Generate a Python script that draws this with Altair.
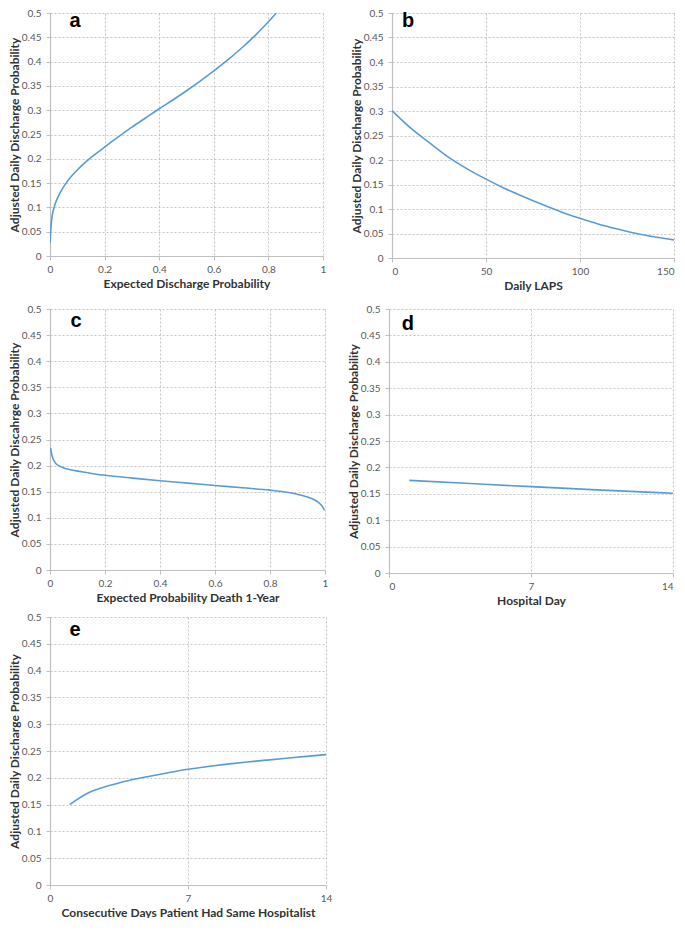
import altair as alt
import pandas as pd

# ---------------- data ----------------
a_x = [0.0005, 0.002, 0.003, 0.006, 0.01, 0.015, 0.02, 0.03, 0.045, 0.06, 0.08, 0.1, 0.12, 0.142, 0.17,
       0.2, 0.25, 0.3, 0.35, 0.4, 0.45, 0.5, 0.55, 0.6, 0.65, 0.7, 0.75, 0.8, 0.829]
a_y = [0.027, 0.045, 0.055, 0.074, 0.089, 0.1, 0.109, 0.122, 0.138, 0.151, 0.165, 0.177, 0.188, 0.199, 0.211,
       0.224, 0.245, 0.265, 0.284, 0.303, 0.321, 0.340, 0.360, 0.381, 0.403, 0.427, 0.453, 0.482, 0.5]

b_x = [0, 10, 20, 30, 40, 50, 60, 70, 80, 90, 100, 110, 120, 130, 140, 150]
b_y = [0.301, 0.265, 0.235, 0.206, 0.182, 0.161, 0.142, 0.125, 0.109, 0.094, 0.081, 0.069, 0.059, 0.050, 0.043, 0.037]

c_x = [0.002, 0.006, 0.01, 0.016, 0.022, 0.035, 0.05, 0.075, 0.107, 0.15, 0.2, 0.3, 0.4, 0.5, 0.6, 0.7, 0.8,
       0.85, 0.896, 0.93, 0.956, 0.975, 0.99, 0.998]
c_y = [0.2335, 0.222, 0.2146, 0.208, 0.2035, 0.199, 0.1955, 0.192, 0.189, 0.185, 0.1815, 0.176, 0.171, 0.1665,
       0.162, 0.1575, 0.153, 0.150, 0.1455, 0.141, 0.136, 0.130, 0.122, 0.1146]

d_x = [1, 4, 7, 10.5, 14]
d_y = [0.1755, 0.1695, 0.1635, 0.157, 0.151]

e_x = [1, 2, 3, 4, 5, 6, 7, 8, 9, 10, 11, 12, 13, 14]
e_y = [0.150, 0.173, 0.1855, 0.195, 0.2025, 0.2095, 0.2159, 0.221, 0.2255, 0.2295, 0.233, 0.2365, 0.240, 0.2433]

y_ticks = [0, 0.05, 0.1, 0.15, 0.2, 0.25, 0.3, 0.35, 0.4, 0.45, 0.5]
prob_ticks = [0, 0.2, 0.4, 0.6, 0.8, 1]
laps_ticks = [0, 50, 100, 150]
day_ticks = [0, 7, 14]

panel_labels = ["a", "b", "c", "d", "e"]
x_titles = ["Expected Discharge Probability", "Daily LAPS", "Expected Probability Death 1-Year",
            "Hospital Day", "Consecutive Days Patient Had Same Hospitalist"]
y_titles = ["Adjusted Daily Discharge Probability", "Adjusted Daily Discharge Probability",
            "Adjusted Daily Discahrge Probability", "Adjusted Daily Discharge Probability",
            "Adjusted Daily Discharge Probability"]

FONT = "Lato"
LINE = "#5B9BD5"
LABEL_EXPR = "'' + datum.value"


def panel(xs, ys, label, xtitle, ytitle, xdomain, xticks, width, height, lab_dx, lab_dy, flush=False):
    df = pd.DataFrame({"x": xs, "y": ys})
    line = alt.Chart(df).mark_line(color=LINE, strokeWidth=1.6, interpolate="monotone", clip=True).encode(
        x=alt.X("x:Q", scale=alt.Scale(domain=xdomain, nice=False, zero=False),
                axis=alt.Axis(values=xticks, labelExpr=LABEL_EXPR, title=xtitle, labelPadding=4,
                              titlePadding=4, labelFlush=flush)),
        y=alt.Y("y:Q", scale=alt.Scale(domain=[0, 0.5], nice=False),
                axis=alt.Axis(values=y_ticks, labelExpr=LABEL_EXPR, title=ytitle,
                              labelPadding=5, titlePadding=0)),
    )
    txt = alt.Chart(pd.DataFrame({"t": [label]})).mark_text(
        align="left", baseline="alphabetic", font="Liberation Sans", fontSize=20,
        fontWeight="bold", color="black"
    ).encode(text="t:N", x=alt.value(lab_dx), y=alt.value(lab_dy))
    return alt.layer(line, txt).properties(width=width, height=height)


pa = panel(a_x, a_y, panel_labels[0], x_titles[0], y_titles[0], [0, 1], prob_ticks, 273, 243, 19.6, 14)
pb = panel(b_x, b_y, panel_labels[1], x_titles[1], y_titles[1], [0, 150], laps_ticks, 282, 245, 10, 14,
           flush=True)
pc = panel(c_x, c_y, panel_labels[2], x_titles[2], y_titles[2], [0, 1], prob_ticks, 275, 261, 20.6, 17.6)
pd_ = panel(d_x, d_y, panel_labels[3], x_titles[3], y_titles[3], [0, 14], day_ticks, 284, 264, 12.7, 21,
            flush=True)
pe = panel(e_x, e_y, panel_labels[4], x_titles[4], y_titles[4], [0, 14], day_ticks, 276, 268, 19.6, 18.7)

row1 = alt.hconcat(pa, pb, spacing=24)
row2 = alt.hconcat(pc, pd_, spacing=19)
lower = alt.vconcat(row2, pe, spacing=6)

chart = alt.vconcat(row1, lower, spacing=13).properties(
    padding={"left": 0, "top": 0, "right": 0, "bottom": 0}
).configure_view(stroke=None).configure_axis(
    labelFont=FONT, labelFontSize=10, labelColor="#595959",
    titleFont=FONT, titleFontSize=12, titleColor="#333333", titleFontWeight="bold",
    gridColor="#c4c4c4", gridDash=[2, 2], gridWidth=1,
    domainColor="#bfbfbf", domainWidth=1.2, tickColor="#bfbfbf", tickSize=4,
)

chart.save("out.html", embed_options={"renderer": "svg", "actions": False})
